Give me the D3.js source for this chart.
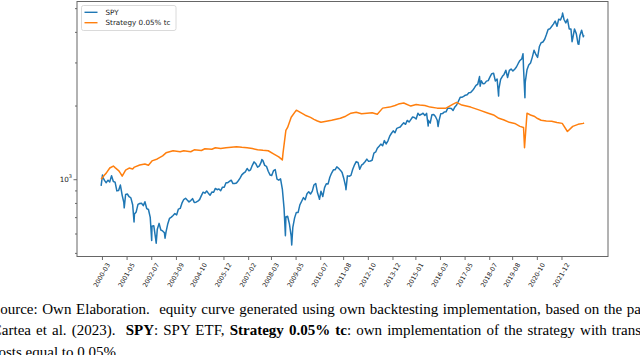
<!DOCTYPE html>
<html><head><meta charset="utf-8">
<script src="https://cdn.jsdelivr.net/npm/d3@7"></script>
<style>body{margin:0;background:#fff}svg{display:block}</style>
</head><body>
<svg id="c" width="640" height="355"></svg>
<script>
// ---------- DATA ----------
const spyDates = [
"2000-03-01","2000-03-24","2000-03","2000-04","2000-05","2000-06","2000-07","2000-08","2000-09","2000-10","2000-11","2000-12",
"2001-01","2001-02","2001-03","2001-04-04","2001-04","2001-05","2001-06","2001-07","2001-08","2001-09-21","2001-09","2001-10","2001-11","2001-12",
"2002-01","2002-02","2002-03","2002-04","2002-05","2002-06","2002-07-23","2002-07","2002-08","2002-09","2002-10-09","2002-10","2002-11","2002-12",
"2003-01","2003-02","2003-03-11","2003-03","2003-04","2003-05","2003-06","2003-07","2003-08","2003-09","2003-10","2003-11","2003-12",
"2004-01","2004-02","2004-03","2004-04","2004-05","2004-06","2004-07","2004-08","2004-09","2004-10","2004-11","2004-12",
"2005-01","2005-02","2005-03","2005-04","2005-05","2005-06","2005-07","2005-08","2005-09","2005-10","2005-11","2005-12",
"2006-01","2006-02","2006-03","2006-04","2006-05","2006-06","2006-07","2006-08","2006-09","2006-10","2006-11","2006-12",
"2007-01","2007-02","2007-03","2007-04","2007-05","2007-06","2007-07","2007-08","2007-09","2007-10-09","2007-10","2007-11","2007-12",
"2008-01","2008-02","2008-03","2008-04","2008-05","2008-06","2008-07","2008-08","2008-09","2008-10","2008-11-20","2008-11","2008-12",
"2009-01","2009-02","2009-03-09","2009-03","2009-04","2009-05","2009-06","2009-07","2009-08","2009-09","2009-10","2009-11","2009-12",
"2010-01","2010-02","2010-03","2010-04","2010-05","2010-06","2010-07-02","2010-07","2010-08","2010-09","2010-10","2010-11","2010-12",
"2011-01","2011-02","2011-03","2011-04","2011-05","2011-06","2011-07","2011-08","2011-09","2011-10-03","2011-10","2011-11","2011-12",
"2012-01","2012-02","2012-03","2012-04","2012-05","2012-06","2012-07","2012-08","2012-09","2012-10","2012-11","2012-12",
"2013-01","2013-02","2013-03","2013-04","2013-05","2013-06","2013-07","2013-08","2013-09","2013-10","2013-11","2013-12",
"2014-01","2014-02","2014-03","2014-04","2014-05","2014-06","2014-07","2014-08","2014-09","2014-10","2014-11","2014-12",
"2015-01","2015-02","2015-03","2015-04","2015-05","2015-06","2015-07","2015-08-25","2015-08","2015-09","2015-10","2015-11","2015-12",
"2016-01","2016-02-11","2016-02","2016-03","2016-04","2016-05","2016-06","2016-07","2016-08","2016-09","2016-10","2016-11","2016-12",
"2017-01","2017-02","2017-03","2017-04","2017-05","2017-06","2017-07","2017-08","2017-09","2017-10","2017-11","2017-12",
"2018-01","2018-02-08","2018-02","2018-03","2018-04","2018-05","2018-06","2018-07","2018-08","2018-09","2018-10","2018-11","2018-12-24","2018-12",
"2019-01","2019-02","2019-03","2019-04","2019-05","2019-06","2019-07","2019-08","2019-09","2019-10","2019-11","2019-12",
"2020-01","2020-02-19","2020-02","2020-03-23","2020-03","2020-04","2020-05","2020-06","2020-07","2020-08","2020-09","2020-10","2020-11","2020-12",
"2021-01","2021-02","2021-03","2021-04","2021-05","2021-06","2021-07","2021-08","2021-09","2021-10","2021-11","2021-12",
"2022-01-03","2022-01","2022-02","2022-03","2022-04","2022-05","2022-06-16","2022-06","2022-07","2022-08","2022-09","2022-10-12","2022-10","2022-11","2022-12",
"2023-01-06"];
const spyValues = [
939,1040,1021,989,968,991,975,1034,979,973,896,899,
947,859,804,764,866,870,848,839,786,669,721,735,789,796,
797,780,809,759,752,698,562,643,646,575,548,625,660,620,
615,604,574,609,658,692,700,711,724,715,755,760,798,
826,836,822,808,818,833,804,806,814,825,857,885,
877,895,877,860,886,885,917,906,913,897,928,927,
968,968,979,991,960,960,965,986,1010,1042,1059,1072,
1106,1082,1093,1140,1177,1156,1119,1134,1174,1203,1191,1139,1129,
1078,1041,1035,1084,1095,1001,991,1003,912,758,588,701,706,
657,585,539,635,695,732,732,786,813,841,825,872,888,
870,894,947,961,882,835,828,893,850,924,958,957,1019,
1060,1093,1093,1124,1108,1089,1065,1004,932,906,1032,1028,1037,
1099,1145,1180,1172,1098,1141,1156,1179,1208,1183,1187,1195,
1278,1292,1338,1363,1391,1370,1438,1393,1435,1499,1541,1576,
1548,1614,1625,1635,1670,1701,1676,1739,1712,1752,1795,1787,
1762,1859,1826,1842,1860,1822,1858,1649,1741,1695,1836,1837,1805,
1742,1642,1735,1850,1854,1883,1885,1952,1950,1947,1909,1975,2011,
2083,2161,2160,2179,2205,2215,2258,2259,2302,2354,2420,2444,
2626,2400,2524,2456,2463,2516,2528,2619,2699,2710,2521,2567,2186,2332,
2558,2634,2681,2787,2603,2783,2819,2768,2816,2874,2971,3057,
3103,3257,2842,2152,2487,2801,2928,2982,3147,3367,3235,3146,3484,3613,
3636,3731,3890,4093,4116,4208,4303,4428,4218,4508,4471,4666,
4773,4493,4352,4507,4111,4111,3649,3766,4109,3935,3568,3559,3853,4060,3821,
3880];

const stratDates = [
"2000-03-01","2000-04","2000-05","2000-07","2000-09","2000-10","2000-12","2001-01","2001-02","2001-04","2001-06","2001-08","2001-09","2001-12",
"2002-03","2002-05","2002-07","2002-10","2003-01","2003-03","2003-07","2003-11","2004-01","2004-05","2004-07","2004-11",
"2005-01","2005-05","2005-07","2005-10","2006-01","2006-04","2006-07","2006-10","2007-01","2007-04","2007-07","2007-10",
"2008-01","2008-04","2008-07","2008-09","2008-10-10","2008-11","2008-12","2009-02","2009-05","2009-07","2009-10",
"2010-01","2010-03","2010-05","2010-07","2010-10","2011-01","2011-06","2011-09","2011-12","2012-03","2012-06","2012-09","2012-12",
"2013-03","2013-06","2013-10","2014-01","2014-03","2014-06","2014-10","2015-01","2015-03","2015-06","2015-09",
"2016-01","2016-06","2016-10","2016-12","2017-03","2017-08","2018-01","2018-06","2018-09","2018-12",
"2019-03","2019-06","2019-09","2019-12","2020-02","2020-03-16","2020-04","2020-06","2020-08","2020-10","2020-12",
"2021-03","2021-06","2021-09","2021-12","2022-03","2022-06","2022-09","2022-12","2023-01-06"];
const stratValues = [
1000,1040,1059,1111,1132,1115,1085,1059,1029,1089,1111,1100,1121,1143,
1154,1140,1188,1210,1246,1282,1307,1295,1307,1295,1319,1310,
1332,1325,1345,1335,1345,1352,1358,1350,1345,1335,1319,1312,
1307,1270,1234,1199,1282,1582,1628,1792,1915,1879,1826,
1790,1757,1730,1708,1725,1741,1774,1809,1861,1879,1850,1861,1870,
1843,1952,1971,2000,2028,2048,1990,2020,2009,2000,1971,
1952,1952,2028,2060,2009,1971,1915,1861,1830,1774,
1745,1708,1690,1644,1628,1345,1861,1830,1809,1770,1741,
1730,1724,1705,1691,1567,1644,1676,1691,1700];

const seriesNames = ["SPY","Strategy 0.05% tc"];
const xTickLabels = ["2000-03","2001-05","2002-07","2003-09","2004-10","2005-12","2007-02","2008-03","2009-05","2010-07",
"2011-08","2012-10","2013-12","2015-01","2016-03","2017-05","2018-07","2019-08","2020-10","2021-12"];
const yMajorTicks = [1000];
const yMinorTicks = [500,600,700,800,900,2000,3000,4000,5000];
const captionLines = [
 [["Source: Own Elaboration.  equity curve generated using own backtesting implementation, based on the pa",false],["per of",false]],
 [["Cartea et al. (2023).  ",false],["SPY",true],[": SPY ETF, ",false],["Strategy 0.05% tc",true],[": own implementation of the strategy with trans",false],["action",false]],
 [["costs equal to 0.05%.",false]]
];

// ---------- CHART ----------
const parse = s => s.length===7 ? new Date(+s.slice(0,4), +s.slice(5,7)-1, 28)
                                : new Date(+s.slice(0,4), +s.slice(5,7)-1, +s.slice(8,10));
const spy = spyDates.map((d,i)=>({d:parse(d), v:spyValues[i]}));
const strat = stratDates.map((d,i)=>({d:parse(d), v:stratValues[i]}));
const all = spy.concat(strat);

const L=77, R=608, T=1.5, B=256.5;
const svg = d3.select("#c");

const [d0,d1] = d3.extent(all, p=>p.d);
const pad = (d1-d0)*0.05;
const x = d3.scaleTime().domain([new Date(+d0-pad), new Date(+d1+pad)]).range([L,R]);
const [v0,v1] = d3.extent(all, p=>p.v);
const lspan = Math.log10(v1/v0)*0.05;
const y = d3.scaleLog().domain([v0/Math.pow(10,lspan), v1*Math.pow(10,lspan)]).range([B,T]);

const font = "DejaVu Sans, sans-serif";
svg.append("defs").append("clipPath").attr("id","pc").append("rect")
  .attr("x",L).attr("y",T).attr("width",R-L).attr("height",B-T);

const line = d3.line().x(p=>x(p.d)).y(p=>y(p.v));
const g = svg.append("g").attr("clip-path","url(#pc)");
g.append("path").datum(spy).attr("d",line).attr("fill","none").attr("stroke","#1f77b4")
  .attr("stroke-width",1.5).attr("stroke-linejoin","round");
g.append("path").datum(strat).attr("d",line).attr("fill","none").attr("stroke","#ff7f0e")
  .attr("stroke-width",1.5).attr("stroke-linejoin","round");

// x axis
const tickDates = xTickLabels.map(s=>parse(s+"-15"));
const xa = svg.append("g").attr("transform",`translate(0,${B})`)
  .call(d3.axisBottom(x).tickValues(tickDates).tickFormat("").tickSize(3.5).tickSizeOuter(0));
xa.select(".domain").remove();
xa.selectAll("line").attr("stroke","#444").attr("stroke-width",0.8);
const fsX = 6.4, ang = 60;
tickDates.forEach((d,i)=>{
  const t = svg.append("text").text(xTickLabels[i]).attr("font-family",font).attr("font-size",fsX)
    .attr("fill","#222").attr("text-anchor","middle").attr("dominant-baseline","central");
  const len = t.node().getComputedTextLength();
  const a = ang*Math.PI/180;
  const bh = len*Math.sin(a) + fsX*Math.cos(a);
  t.attr("transform",`translate(${x(d)},${262 + bh/2}) rotate(${-ang})`);
});

// y axis
const ya1 = svg.append("g").attr("transform",`translate(${L},0)`)
  .call(d3.axisLeft(y).tickValues(yMinorTicks.filter(v=>v>y.domain()[0]&&v<y.domain()[1])).tickFormat("").tickSize(2));
const ya2 = svg.append("g").attr("transform",`translate(${L},0)`)
  .call(d3.axisLeft(y).tickValues(yMajorTicks).tickFormat("").tickSize(3.5));
[ya1,ya2].forEach(a=>{a.select(".domain").remove(); a.selectAll("line").attr("stroke","#444").attr("stroke-width",0.8);});
yMajorTicks.forEach(v=>{
  const t = svg.append("text").attr("x",72).attr("y",y(v)).attr("text-anchor","end")
    .attr("dominant-baseline","central").attr("font-family",font).attr("font-size",7.2).attr("fill","#222");
  t.append("tspan").text("10");
  t.append("tspan").text(String(Math.round(Math.log10(v)))).attr("font-size",5).attr("dy",-3);
});

// frame
svg.append("rect").attr("x",L).attr("y",T).attr("width",R-L).attr("height",B-T)
  .attr("fill","none").attr("stroke","#666").attr("stroke-width",1);

// legend
const lg = svg.append("g");
lg.append("rect").attr("x",81.5).attr("y",5.5).attr("width",94.5).attr("height",25).attr("rx",2)
  .attr("fill","#fff").attr("fill-opacity",0.8).attr("stroke","#d0d0d0").attr("stroke-width",0.8);
const lcol = ["#1f77b4","#ff7f0e"];
seriesNames.forEach((n,i)=>{
  const yy = 12.3 + i*10.4;
  lg.append("line").attr("x1",84.5).attr("x2",97.5).attr("y1",yy).attr("y2",yy)
    .attr("stroke",lcol[i]).attr("stroke-width",1.4);
  lg.append("text").attr("x",105.5).attr("y",yy).attr("dominant-baseline","central")
    .attr("font-family",font).attr("font-size",7.2).attr("fill","#222").text(n);
});

// caption
const capFont = "Liberation Serif, Times New Roman, serif";
const fsC = 15, x0 = -8.2;
const baselines = [314, 334.5, 356.5];
const targets = [641, 641, null];
captionLines.forEach((parts,li)=>{
  const t = svg.append("text").attr("x",x0).attr("y",baselines[li]).attr("font-family",capFont)
    .attr("font-size",fsC).attr("fill","#000").style("white-space","pre");
  const vis = targets[li] ? parts.slice(0,parts.length-1) : parts;
  vis.forEach(([s,b])=>t.append("tspan").text(s).attr("font-weight",b?"bold":"normal"));
  if (targets[li]) {
    const w = t.node().getComputedTextLength();
    const nSp = vis.map(p=>p[0]).join("").split(" ").length-1;
    const ws = (targets[li]-x0-w)/nSp;
    t.attr("word-spacing",ws);
    const [s,b] = parts[parts.length-1];
    t.append("tspan").text(s).attr("font-weight",b?"bold":"normal");
  }
});
</script>
</body></html>
